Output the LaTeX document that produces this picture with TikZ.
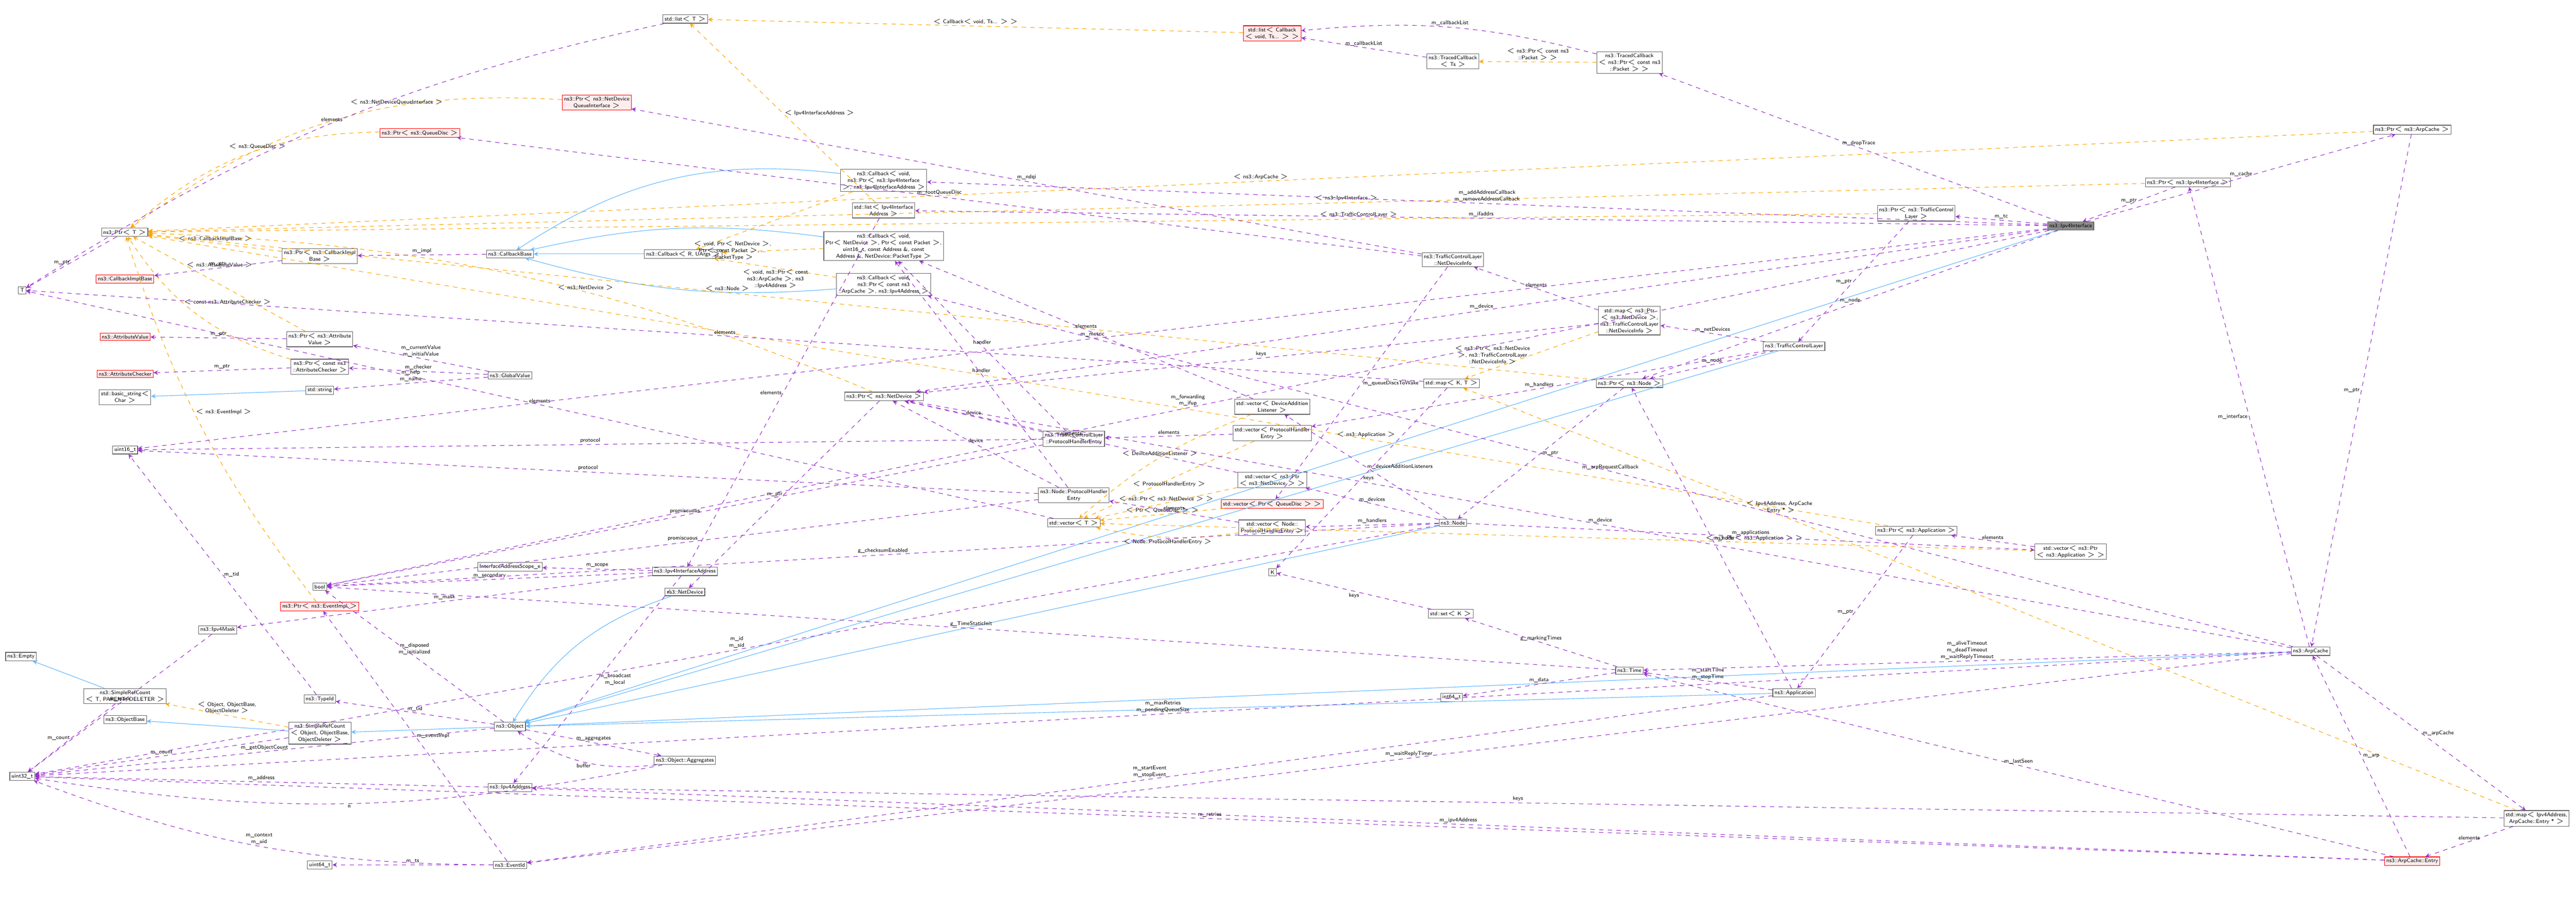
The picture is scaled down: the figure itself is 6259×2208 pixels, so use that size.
\documentclass[tikz,border=0pt]{standalone}
\usepackage{tikz}
\usetikzlibrary{arrows, positioning}
\definecolor{usecol}{HTML}{9A32CD}
\definecolor{tmplcol}{HTML}{FFA500}
\definecolor{inhcol}{HTML}{63B8FF}
\tikzset{cls/.style = {draw=black!60, fill=white, font=\sffamily\fontsize{3.8}{4.6}\selectfont, inner sep=1.2pt, align=center}}
\tikzset{redcls/.style = {cls, draw=red, fill=red!7}}
\tikzset{curcls/.style = {cls, fill=black!45}}
\tikzset{lbl/.style = {font=\sffamily\fontsize{3.8}{4.6}\selectfont, align=center, inner sep=1pt}}
\tikzset{use/.style = {->, >=stealth, dashed, draw=usecol}}
\tikzset{tmpl/.style = {->, >=stealth, dashed, draw=tmplcol}}
\tikzset{inh/.style = {->, >=stealth, draw=inhcol}}

\begin{document}
\begin{tikzpicture}[x=0.01cm, y=-0.01cm]
  \useasboundingbox (0,0) rectangle (6259,2208);
  % Left column
  \node[cls] (T) at (54,705) {T};
  \node[cls] (ptrT) at (303,564) {ns3::Ptr$<$ T $>$};
  \node[redcls] (cbImpl) at (304,678) {ns3::CallbackImplBase};
  \node[redcls] (attrVal) at (304,818) {ns3::AttributeValue};
  \node[redcls] (attrChk) at (304,908) {ns3::AttributeChecker};
  \node[cls] (basicString) at (304,965) {std::basic\_string$<$\\Char $>$};
  \node[cls] (uint16) at (304,1093) {uint16\_t};
  \node[cls] (empty) at (51,1595) {ns3::Empty};
  \node[cls] (srcTPD) at (304,1691) {ns3::SimpleRefCount\\$<$ T, PARENT, DELETER $>$};
  \node[cls] (objBase) at (304,1748) {ns3::ObjectBase};
  \node[cls] (uint32) at (54,1886) {uint32\_t};
  % Second column
  \node[redcls] (ptrQdisc) at (1020,323) {ns3::Ptr$<$ ns3::QueueDisc $>$};
  \node[cls] (ptrCbImpl) at (777,622) {ns3::Ptr$<$ ns3::CallbackImpl\\Base $>$};
  \node[cls] (ptrAttrVal) at (777,824) {ns3::Ptr$<$ ns3::Attribute\\Value $>$};
  \node[cls] (ptrAttrChk) at (777,891) {ns3::Ptr$<$ const ns3\\::AttributeChecker $>$};
  \node[cls] (stdString) at (777,948) {std::string};
  \node[cls] (boolT) at (777,1425) {bool};
  \node[redcls] (ptrEvImpl) at (777,1473) {ns3::Ptr$<$ ns3::EventImpl $>$};
  \node[cls] (ipMask) at (529,1530) {ns3::Ipv4Mask};
  \node[cls] (typeId) at (777,1698) {ns3::TypeId};
  \node[cls] (srcObj) at (777,1781) {ns3::SimpleRefCount\\$<$ Object, ObjectBase,\\ObjectDeleter $>$};
  \node[cls] (uint64) at (777,2101) {uint64\_t};
  % Third column
  \node[cls] (cbBase) at (1239,617) {ns3::CallbackBase};
  \node[cls] (globalVal) at (1239,912) {ns3::GlobalValue};
  \node[cls] (ifScope) at (1239,1377) {InterfaceAddressScope\_e};
  \node[cls] (object) at (1239,1765) {ns3::Object};
  \node[cls] (ipAddr) at (1239,1913) {ns3::Ipv4Address};
  \node[cls] (eventId) at (1239,2101) {ns3::EventId};
  % Fourth column
  \node[cls] (listT) at (1665,46) {std::list$<$ T $>$};
  \node[redcls] (ptrNdqi) at (1450,249) {ns3::Ptr$<$ ns3::NetDevice\\QueueInterface $>$};
  \node[cls] (cbRU) at (1660,617) {ns3::Callback$<$ R, UArgs $>$};
  \node[cls] (ifAddr) at (1664,1388) {ns3::Ipv4InterfaceAddress};
  \node[cls] (netDev) at (1664,1438) {ns3::NetDevice};
  \node[cls] (aggr) at (1664,1847) {ns3::Object::Aggregates};
  % Callbacks column
  \node[cls] (cbIface) at (2147,438) {ns3::Callback$<$ void,\\ns3::Ptr$<$ ns3::Ipv4Interface\\$>$, ns3::Ipv4InterfaceAddress $>$};
  \node[cls] (listIfAddr) at (2147,511) {std::list$<$ Ipv4Interface\\Address $>$};
  \node[cls] (cbPkt) at (2147,598) {ns3::Callback$<$ void,\\Ptr$<$ NetDevice $>$, Ptr$<$ const Packet $>$,\\uint16\_t, const Address \&, const\\Address \&, NetDevice::PacketType $>$};
  \node[cls] (cbArp) at (2147,691) {ns3::Callback$<$ void,\\ns3::Ptr$<$ const ns3\\::ArpCache $>$, ns3::Ipv4Address $>$};
  \node[cls] (ptrNetDev) at (2148,963) {ns3::Ptr$<$ ns3::NetDevice $>$};
  \node[cls] (tclPhe) at (2609,1066) {ns3::TrafficControlLayer\\::ProtocolHandlerEntry};
  \node[cls] (nodePhe) at (2609,1203) {ns3::Node::ProtocolHandler\\Entry};
  \node[cls] (vecT) at (2609,1270) {std::vector$<$ T $>$};
  % Containers
  \node[redcls] (listCb) at (3091,81) {std::list$<$ Callback\\$<$ void, Ts... $>$ $>$};
  \node[cls] (vecDal) at (3091,988) {std::vector$<$ DeviceAddition\\Listener $>$};
  \node[cls] (vecPhe) at (3091,1052) {std::vector$<$ ProtocolHandler\\Entry $>$};
  \node[cls] (vecNetDev) at (3091,1166) {std::vector$<$ ns3::Ptr\\$<$ ns3::NetDevice $>$ $>$};
  \node[redcls] (vecQdisc) at (3091,1224) {std::vector$<$ Ptr$<$ QueueDisc $>$ $>$};
  \node[cls] (vecNodePhe) at (3091,1282) {std::vector$<$ Node::\\ProtocolHandlerEntry $>$};
  \node[cls] (K) at (3092,1390) {K};
  \node[cls] (tcTs) at (3530,149) {ns3::TracedCallback\\$<$ Ts $>$};
  \node[cls] (ndInfo) at (3530,631) {ns3::TrafficControlLayer\\::NetDeviceInfo};
  \node[cls] (mapKT) at (3527,931) {std::map$<$ K, T $>$};
  \node[cls] (nodeN) at (3530,1270) {ns3::Node};
  \node[cls] (setK) at (3525,1491) {std::set$<$ K $>$};
  \node[cls] (int64) at (3527,1694) {int64\_t};
  \node[cls] (tcPkt) at (3959,152) {ns3::TracedCallback\\$<$ ns3::Ptr$<$ const ns3\\::Packet $>$ $>$};
  \node[cls] (mapNd) at (3959,779) {std::map$<$ ns3::Ptr\\$<$ ns3::NetDevice $>$,\\ns3::TrafficControlLayer\\::NetDeviceInfo $>$};
  \node[cls] (ptrNode) at (3959,931) {ns3::Ptr$<$ ns3::Node $>$};
  \node[cls] (timeT) at (3959,1629) {ns3::Time};
  % Right part
  \node[cls] (tcl) at (4359,841) {ns3::TrafficControlLayer};
  \node[cls] (app) at (4359,1683) {ns3::Application};
  \node[cls] (ptrTcl) at (4656,518) {ns3::Ptr$<$ ns3::TrafficControl\\Layer $>$};
  \node[cls] (ptrApp) at (4656,1289) {ns3::Ptr$<$ ns3::Application $>$};
  \node[curcls] (iface) at (5031,549) {ns3::Ipv4Interface};
  \node[cls] (vecApp) at (5031,1340) {std::vector$<$ ns3::Ptr\\$<$ ns3::Application $>$ $>$};
  \node[cls] (ptrIface) at (5316,443) {ns3::Ptr$<$ ns3::Ipv4Interface $>$};
  \node[cls] (arp) at (5614,1582) {ns3::ArpCache};
  \node[cls] (ptrArp) at (5861,315) {ns3::Ptr$<$ ns3::ArpCache $>$};
  \node[redcls] (arpEntry) at (5861,2092) {ns3::ArpCache::Entry};
  \node[cls] (mapArp) at (6163,1988) {std::map$<$ Ipv4Address,\\ArpCache::Entry * $>$};
  % Inheritance
  \draw[inh] (stdString) -- (basicString);
  \draw[inh] (cbRU) -- (cbBase);
  \draw[inh] (cbIface) to[bend right=20] (cbBase);
  \draw[inh] (cbPkt) to[bend right=10] (cbBase);
  \draw[inh] (cbArp) to[bend left=10] (cbBase);
  \draw[inh] (srcTPD) -- (empty);
  \draw[inh] (srcObj) -- (objBase);
  \draw[inh] (object) -- (srcObj);
  \draw[inh] (netDev) to[bend right=20] (object);
  \draw[inh] (nodeN) -- (object);
  \draw[inh] (tcl) -- (object);
  \draw[inh] (app) -- (object);
  \draw[inh] (arp) -- (object);
  \draw[inh] (iface) -- (object);
  % Template instances
  \draw[tmpl] (ptrNdqi) to[bend right=20] node[lbl, above, pos=0.35] {$<$ ns3::NetDeviceQueueInterface $>$} (ptrT);
  \draw[tmpl] (ptrQdisc) to[bend right=20] node[lbl, above, pos=0.45] {$<$ ns3::QueueDisc $>$} (ptrT);
  \draw[tmpl] (ptrCbImpl) -- node[lbl, above] {$<$ ns3::CallbackImplBase $>$} (ptrT);
  \draw[tmpl] (ptrAttrVal) -- node[lbl, right, pos=0.7] {$<$ ns3::AttributeValue $>$} (ptrT);
  \draw[tmpl] (ptrAttrChk) to[bend left=20] node[lbl, right, pos=0.6] {$<$ const ns3::AttributeChecker $>$} (ptrT);
  \draw[tmpl] (ptrEvImpl) to[bend left=10] node[lbl, right, pos=0.55] {$<$ ns3::EventImpl $>$} (ptrT);
  \draw[tmpl] (ptrNetDev) to[bend right=10] node[lbl, above, pos=0.4] {$<$ ns3::NetDevice $>$} (ptrT);
  \draw[tmpl] (ptrNode) -- node[lbl, above, pos=0.6] {$<$ ns3::Node $>$} (ptrT);
  \draw[tmpl] (ptrTcl) -- node[lbl, above, pos=0.3] {$<$ ns3::TrafficControlLayer $>$} (ptrT);
  \draw[tmpl] (ptrIface) -- node[lbl, above, pos=0.4] {$<$ ns3::Ipv4Interface $>$} (ptrT);
  \draw[tmpl] (ptrArp) -- node[lbl, above, pos=0.5] {$<$ ns3::ArpCache $>$} (ptrT);
  \draw[tmpl] (ptrApp) -- node[lbl, above, pos=0.3] {$<$ ns3::Application $>$} (ptrT);
  \draw[tmpl] (listCb) -- node[lbl, above] {$<$ Callback$<$ void, Ts... $>$ $>$} (listT);
  \draw[tmpl] (listIfAddr) -- node[lbl, right] {$<$ Ipv4InterfaceAddress $>$} (listT);
  \draw[tmpl] (tcPkt) -- node[lbl, above] {$<$ ns3::Ptr$<$ const ns3\\::Packet $>$ $>$} (tcTs);
  \draw[tmpl] (cbIface) -- (cbRU);
  \draw[tmpl] (cbPkt) -- node[lbl, left] {$<$ void, Ptr$<$ NetDevice $>$,\\Ptr$<$ const Packet $>$, ...\\::PacketType $>$} (cbRU);
  \draw[tmpl] (cbArp) -- node[lbl, below] {$<$ void, ns3::Ptr$<$ const\\ns3::ArpCache $>$, ns3\\::Ipv4Address $>$} (cbRU);
  \draw[tmpl] (srcObj) -- node[lbl, above] {$<$ Object, ObjectBase,\\ObjectDeleter $>$} (srcTPD);
  \draw[tmpl] (mapNd) -- node[lbl, left] {$<$ ns3::Ptr$<$ ns3::NetDevice\\$>$, ns3::TrafficControlLayer\\::NetDeviceInfo $>$} (mapKT);
  \draw[tmpl] (mapArp) -- node[lbl, above, pos=0.7] {$<$ Ipv4Address, ArpCache\\::Entry * $>$} (mapKT);
  \draw[tmpl] (vecDal) to[bend right=10] node[lbl, above] {$<$ DeviceAdditionListener $>$} (vecT);
  \draw[tmpl] (vecPhe) -- node[lbl, below] {$<$ ProtocolHandlerEntry $>$} (vecT);
  \draw[tmpl] (vecNetDev) -- node[lbl, above] {$<$ ns3::Ptr$<$ ns3::NetDevice $>$ $>$} (vecT);
  \draw[tmpl] (vecQdisc) -- node[lbl, above] {$<$ Ptr$<$ QueueDisc $>$ $>$} (vecT);
  \draw[tmpl] (vecNodePhe) to[bend left=10] node[lbl, below] {$<$ Node::ProtocolHandlerEntry $>$} (vecT);
  \draw[tmpl] (vecApp) -- node[lbl, above, pos=0.3] {$<$ ns3::Ptr$<$ ns3::Application $>$ $>$} (vecT);
  % Usage: generic parts
  \draw[use] (listT) to[bend right=10] node[lbl, above] {elements} (T);
  \draw[use] (ptrT) -- node[lbl, left] {m\_ptr} (T);
  \draw[use] (mapKT) -- node[lbl, above] {elements} (T);
  \draw[use] (vecT) -- node[lbl, above] {elements} (T);
  \draw[use] (mapKT) -- node[lbl, right] {keys} (K);
  \draw[use] (setK) -- node[lbl, below] {keys} (K);
  \draw[use] (ptrCbImpl) -- node[lbl, above] {m\_ptr} (cbImpl);
  \draw[use] (cbBase) -- node[lbl, above] {m\_impl} (ptrCbImpl);
  \draw[use] (ptrAttrVal) -- node[lbl, above] {m\_ptr} (attrVal);
  \draw[use] (ptrAttrChk) -- node[lbl, above] {m\_ptr} (attrChk);
  \draw[use] (globalVal) -- node[lbl, above] {m\_currentValue\\m\_initialValue} (ptrAttrVal);
  \draw[use] (globalVal) -- node[lbl, above] {m\_checker} (ptrAttrChk);
  \draw[use] (globalVal) -- node[lbl, above] {m\_help\\m\_name} (stdString);
  \draw[use] (tcTs) -- node[lbl, above] {m\_callbackList} (listCb);
  \draw[use] (tcPkt) to[bend right=10] node[lbl, above] {m\_callbackList} (listCb);
  % Usage: object model
  \draw[use] (object) -- node[lbl, above] {m\_disposed\\m\_initialized} (boolT);
  \draw[use] (object) -- node[lbl, above] {m\_tid} (typeId);
  \draw[use] (object) -- node[lbl, above] {m\_aggregates} (aggr);
  \draw[use] (aggr) to[bend left=20] node[lbl, below] {buffer} (object);
  \draw[use] (aggr) to[bend left=10] node[lbl, below] {n} (uint32);
  \draw[use] (object) -- node[lbl, above] {m\_getObjectCount} (uint32);
  \draw[use] (srcObj) -- node[lbl, above] {m\_count} (uint32);
  \draw[use] (srcTPD) -- node[lbl, left] {m\_count} (uint32);
  \draw[use] (typeId) -- node[lbl, right] {m\_tid} (uint16);
  \draw[use] (ipAddr) -- node[lbl, above] {m\_address} (uint32);
  \draw[use] (ipMask) -- node[lbl, above] {m\_mask} (uint32);
  \draw[use] (ifAddr) -- node[lbl, above] {m\_mask} (ipMask);
  \draw[use] (ifAddr) -- node[lbl, above] {m\_secondary} (boolT);
  \draw[use] (ifAddr) -- node[lbl, above] {m\_scope} (ifScope);
  \draw[use] (ifAddr) -- node[lbl, right] {m\_broadcast\\m\_local} (ipAddr);
  \draw[use] (listIfAddr) -- node[lbl, left] {elements} (ifAddr);
  \draw[use] (ptrNetDev) -- node[lbl, left] {m\_ptr} (netDev);
  \draw[use] (eventId) -- node[lbl, right] {m\_eventImpl} (ptrEvImpl);
  \draw[use] (eventId) -- node[lbl, above] {m\_ts} (uint64);
  \draw[use] (eventId) to[bend left=10] node[lbl, above] {m\_context\\m\_uid} (uint32);
  % Usage: protocol handlers
  \draw[use] (vecNetDev) -- node[lbl, above] {elements} (ptrNetDev);
  \draw[use] (tclPhe) -- node[lbl, above] {device} (ptrNetDev);
  \draw[use] (nodePhe) -- node[lbl, above] {device} (ptrNetDev);
  \draw[use] (tclPhe) -- node[lbl, above] {handler} (cbPkt);
  \draw[use] (nodePhe) -- node[lbl, above] {handler} (cbPkt);
  \draw[use] (vecDal) -- node[lbl, above] {elements} (cbPkt);
  \draw[use] (vecPhe) -- node[lbl, above] {elements} (tclPhe);
  \draw[use] (vecNodePhe) -- node[lbl, above] {elements} (nodePhe);
  \draw[use] (tclPhe) -- node[lbl, above] {protocol} (uint16);
  \draw[use] (nodePhe) -- node[lbl, above] {protocol} (uint16);
  \draw[use] (tclPhe) -- node[lbl, above] {promiscuous} (boolT);
  \draw[use] (nodePhe) -- node[lbl, above] {promiscuous} (boolT);
  % Usage: traffic control and node
  \draw[use] (ndInfo) -- node[lbl, above] {m\_ndqi} (ptrNdqi);
  \draw[use] (ndInfo) -- node[lbl, above] {m\_rootQueueDisc} (ptrQdisc);
  \draw[use] (ndInfo) -- node[lbl, right] {m\_queueDiscsToWake} (vecQdisc);
  \draw[use] (mapNd) -- node[lbl, above] {elements} (ndInfo);
  \draw[use] (mapNd) -- node[lbl, above] {keys} (ptrNetDev);
  \draw[use] (tcl) -- node[lbl, above] {m\_netDevices} (mapNd);
  \draw[use] (tcl) -- node[lbl, above] {m\_node} (ptrNode);
  \draw[use] (tcl) -- node[lbl, above] {m\_handlers} (vecPhe);
  \draw[use] (ptrNode) -- node[lbl, right] {m\_ptr} (nodeN);
  \draw[use] (nodeN) -- node[lbl, above] {m\_devices} (vecNetDev);
  \draw[use] (nodeN) -- node[lbl, above] {m\_handlers} (vecNodePhe);
  \draw[use] (nodeN) -- node[lbl, right] {m\_deviceAdditionListeners} (vecDal);
  \draw[use] (nodeN) -- node[lbl, above] {m\_applications} (vecApp);
  \draw[use] (nodeN) -- node[lbl, above] {m\_id\\m\_sid} (uint32);
  \draw[use] (nodeN) -- node[lbl, above] {g\_checksumEnabled} (boolT);
  \draw[use] (vecApp) -- node[lbl, above] {elements} (ptrApp);
  \draw[use] (ptrApp) -- node[lbl, left] {m\_ptr} (app);
  \draw[use] (app) -- node[lbl, right] {m\_node} (ptrNode);
  \draw[use] (app) -- node[lbl, above] {m\_startTime\\m\_stopTime} (timeT);
  \draw[use] (app) -- node[lbl, above] {m\_startEvent\\m\_stopEvent} (eventId);
  \draw[use] (timeT) -- node[lbl, above] {g\_markingTimes} (setK);
  \draw[use] (timeT) -- node[lbl, above] {m\_data} (int64);
  \draw[use] (timeT) -- node[lbl, above] {g\_TimeStaticInit} (boolT);
  % Usage: Ipv4Interface and ArpCache
  \draw[use] (iface) -- node[lbl, above] {m\_dropTrace} (tcPkt);
  \draw[use] (iface) -- node[lbl, above] {m\_addAddressCallback\\m\_removeAddressCallback} (cbIface);
  \draw[use] (iface) -- node[lbl, above] {m\_ifaddrs} (listIfAddr);
  \draw[use] (iface) -- node[lbl, above] {m\_tc} (ptrTcl);
  \draw[use] (iface) -- node[lbl, above] {m\_cache} (ptrArp);
  \draw[use] (iface) -- node[lbl, above] {m\_node} (ptrNode);
  \draw[use] (iface) -- node[lbl, above] {m\_device} (ptrNetDev);
  \draw[use] (iface) -- node[lbl, above] {m\_forwarding\\m\_ifup} (boolT);
  \draw[use] (iface) -- node[lbl, above] {m\_metric} (uint16);
  \draw[use] (ptrIface) -- node[lbl, above] {m\_ptr} (iface);
  \draw[use] (ptrTcl) -- node[lbl, left] {m\_ptr} (tcl);
  \draw[use] (ptrArp) -- node[lbl, left] {m\_ptr} (arp);
  \draw[use] (arp) -- node[lbl, left] {m\_interface} (ptrIface);
  \draw[use] (arp) -- node[lbl, above] {m\_device} (ptrNetDev);
  \draw[use] (arp) -- node[lbl, above] {m\_arpRequestCallback} (cbArp);
  \draw[use] (arp) -- node[lbl, above] {m\_aliveTimeout\\m\_deadTimeout\\m\_waitReplyTimeout} (timeT);
  \draw[use] (arp) -- node[lbl, right] {m\_arpCache} (mapArp);
  \draw[use] (arp) -- node[lbl, above] {m\_maxRetries\\m\_pendingQueueSize} (uint32);
  \draw[use] (arp) -- node[lbl, above] {m\_waitReplyTimer} (eventId);
  \draw[use] (arpEntry) -- node[lbl, right] {m\_arp} (arp);
  \draw[use] (mapArp) -- node[lbl, above] {elements} (arpEntry);
  \draw[use] (mapArp) -- node[lbl, above] {keys} (ipAddr);
  \draw[use] (arpEntry) -- node[lbl, above] {m\_lastSeen} (timeT);
  \draw[use] (arpEntry) -- node[lbl, above] {m\_ipv4Address} (ipAddr);
  \draw[use] (arpEntry) -- node[lbl, above] {m\_retries} (uint32);
\end{tikzpicture}
\end{document}
